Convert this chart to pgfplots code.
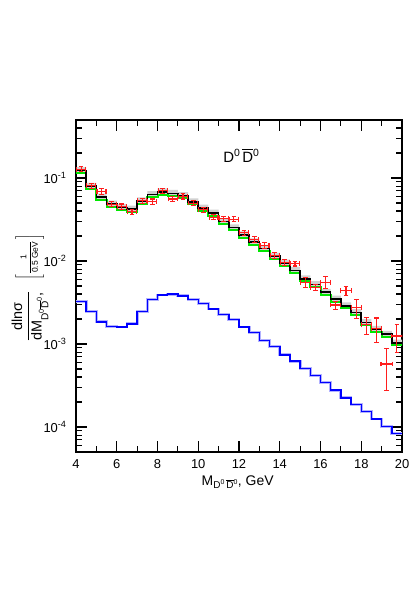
\documentclass[border=0pt]{standalone}
\usepackage{pgfplots}
\pgfplotsset{compat=1.18}
\usepgfplotslibrary{fillbetween}
\usepackage{amsmath}
\usepackage{fontspec}
\setmainfont{Liberation Sans}
\begin{document}
\begin{tikzpicture}
\begin{axis}[
  scale only axis, width=326bp, height=332bp,
  ymode=log, xmin=4, xmax=20, ymin=5e-5, ymax=0.5,
  xtick={4,6,...,20}, minor x tick num=1,
  ytick={1e-4,1e-3,1e-2,1e-1},
  yticklabels={10\textsuperscript{-4},10\textsuperscript{-3},10\textsuperscript{-2},10\textsuperscript{-1}},
  minor ytick={6e-5,7e-5,8e-5,9e-5,2e-4,3e-4,4e-4,5e-4,6e-4,7e-4,8e-4,9e-4,2e-3,3e-3,4e-3,5e-3,6e-3,7e-3,8e-3,9e-3,2e-2,3e-2,4e-2,5e-2,6e-2,7e-2,8e-2,9e-2,2e-1,3e-1,4e-1,5e-1},
  /pgf/number format/assume math mode=true,
  tick align=inside, major tick length=11bp, minor tick length=6bp,
  axis line style={line width=1.6bp},
  every tick/.style={black, line width=1.1bp},
  tick label style={font=\fontsize{13}{15}\selectfont},
  yticklabel style={xshift=-6bp},
  xticklabel style={yshift=-4bp},
  clip=true,
]
% uncertainty band
\addplot[draw=none, const plot, name path=U, forget plot] coordinates {
(4.0,0.1353)(4.5,0.0875)(5.0,0.0649)(5.5,0.0535)(6.0,0.0486)(6.5,0.0464)(7.0,0.0583)(7.5,0.0693)
(8.0,0.0748)(8.5,0.0718)(9.0,0.0674)(9.5,0.0570)(10.0,0.0477)(10.5,0.0415)(11.0,0.0328)(11.5,0.0277)
(12.0,0.0227)(12.5,0.0187)(13.0,0.0155)(13.5,0.0125)(14.0,0.0104)(14.5,0.00847)(15.0,0.00671)(15.5,0.00572)
(16.0,0.00462)(16.5,0.00384)(17.0,0.00318)(17.5,0.00264)(18.0,0.00199)(18.5,0.00165)(19.0,0.00144)(19.5,0.00113)(20.0,0.00113)};
\addplot[draw=none, const plot, name path=L, forget plot] coordinates {
(4.0,0.1144)(4.5,0.0739)(5.0,0.0549)(5.5,0.0452)(6.0,0.0411)(6.5,0.0392)(7.0,0.0493)(7.5,0.0586)
(8.0,0.0632)(8.5,0.0607)(9.0,0.0570)(9.5,0.0482)(10.0,0.0404)(10.5,0.0351)(11.0,0.0277)(11.5,0.0234)
(12.0,0.0192)(12.5,0.0158)(13.0,0.0131)(13.5,0.0106)(14.0,0.0088)(14.5,0.00716)(15.0,0.00567)(15.5,0.00484)
(16.0,0.00391)(16.5,0.00325)(17.0,0.00269)(17.5,0.00223)(18.0,0.00168)(18.5,0.00140)(19.0,0.00122)(19.5,0.00096)(20.0,0.00096)};
\addplot[black!18, forget plot] fill between[of=U and L];
% green
\addplot[const plot, color={rgb,255:red,0;green,230;blue,0}, line width=2bp, no marks] coordinates {
(4.0,0.1144)(4.5,0.0739)(5.0,0.0549)(5.5,0.0452)(6.0,0.0411)(6.5,0.0392)(7.0,0.0493)(7.5,0.0586)
(8.0,0.0632)(8.5,0.0607)(9.0,0.0570)(9.5,0.0482)(10.0,0.0404)(10.5,0.0351)(11.0,0.0277)(11.5,0.0234)
(12.0,0.0192)(12.5,0.0158)(13.0,0.0131)(13.5,0.0106)(14.0,0.0088)(14.5,0.00716)(15.0,0.00567)(15.5,0.00484)
(16.0,0.00391)(16.5,0.00325)(17.0,0.00269)(17.5,0.00223)(18.0,0.00168)(18.5,0.00140)(19.0,0.00122)(19.5,0.00096)(20.0,0.00096)};
% black
\addplot[const plot, black, line width=1.6bp, no marks] coordinates {
(4.0,0.123)(4.5,0.0795)(5.0,0.059)(5.5,0.0486)(6.0,0.0442)(6.5,0.0422)(7.0,0.053)(7.5,0.063)
(8.0,0.068)(8.5,0.0653)(9.0,0.0613)(9.5,0.0518)(10.0,0.0434)(10.5,0.0377)(11.0,0.0298)(11.5,0.0252)
(12.0,0.0206)(12.5,0.017)(13.0,0.0141)(13.5,0.0114)(14.0,0.00946)(14.5,0.0077)(15.0,0.0061)(15.5,0.0052)
(16.0,0.0042)(16.5,0.00349)(17.0,0.00289)(17.5,0.0024)(18.0,0.00181)(18.5,0.0015)(19.0,0.00131)(19.5,0.00103)(20.0,0.00103)};
% blue halo + blue
\addplot[const plot, blue!30, line width=2.8bp, no marks] coordinates {
(4.0,3.25e-3)(4.5,2.47e-3)(5.0,1.85e-3)(5.5,1.62e-3)(6.0,1.6e-3)(6.5,1.75e-3)(7.0,2.47e-3)(7.5,3.43e-3)
(8.0,3.9e-3)(8.5,3.98e-3)(9.0,3.8e-3)(9.5,3.46e-3)(10.0,3.07e-3)(10.5,2.64e-3)(11.0,2.27e-3)(11.5,1.98e-3)
(12.0,1.6e-3)(12.5,1.37e-3)(13.0,1.1e-3)(13.5,9.3e-4)(14.0,7.4e-4)(14.5,6.2e-4)(15.0,5.06e-4)(15.5,4.2e-4)
(16.0,3.42e-4)(16.5,2.78e-4)(17.0,2.25e-4)(17.5,1.88e-4)(18.0,1.53e-4)(18.5,1.25e-4)(19.0,1.01e-4)(19.5,8.4e-5)(20.0,8.4e-5)};
\addplot[const plot, blue, line width=1.5bp, no marks] coordinates {
(4.0,3.25e-3)(4.5,2.47e-3)(5.0,1.85e-3)(5.5,1.62e-3)(6.0,1.6e-3)(6.5,1.75e-3)(7.0,2.47e-3)(7.5,3.43e-3)
(8.0,3.9e-3)(8.5,3.98e-3)(9.0,3.8e-3)(9.5,3.46e-3)(10.0,3.07e-3)(10.5,2.64e-3)(11.0,2.27e-3)(11.5,1.98e-3)
(12.0,1.6e-3)(12.5,1.37e-3)(13.0,1.1e-3)(13.5,9.3e-4)(14.0,7.4e-4)(14.5,6.2e-4)(15.0,5.06e-4)(15.5,4.2e-4)
(16.0,3.42e-4)(16.5,2.78e-4)(17.0,2.25e-4)(17.5,1.88e-4)(18.0,1.53e-4)(18.5,1.25e-4)(19.0,1.01e-4)(19.5,8.4e-5)(20.0,8.4e-5)};
% data points
\addplot[draw=none, mark=none, red,
  error bars/.cd, x dir=both, x explicit, y dir=both, y explicit,
  error bar style={color={rgb,255:red,255;green,30;blue,30}, line width=1.1bp},
  error mark options={color={rgb,255:red,255;green,30;blue,30}, line width=1.1bp, mark size=2.4bp, rotate=90}]
  table[x=x, y=y, x error=ex, y error=ey] {
x y ex ey
4.25 0.128 0.22 0.009
4.75 0.081 0.22 0.0057
5.25 0.069 0.22 0.0052
5.75 0.0485 0.22 0.0034
6.25 0.0454 0.22 0.0032
6.75 0.0391 0.22 0.0027
7.25 0.0532 0.22 0.0037
7.75 0.0522 0.22 0.0037
8.25 0.0705 0.22 0.0049
8.75 0.0558 0.22 0.0039
9.25 0.0601 0.22 0.0042
9.75 0.0499 0.22 0.0035
10.25 0.0414 0.22 0.0029
10.75 0.0337 0.22 0.0024
11.25 0.0322 0.22 0.0023
11.75 0.0319 0.22 0.0022
12.25 0.0219 0.22 0.0015
12.75 0.0182 0.22 0.0013
13.25 0.0155 0.22 0.0012
13.75 0.0117 0.22 0.0011
14.25 0.0097 0.22 0.0008
14.75 0.0093 0.22 0.0006
15.25 0.00556 0.25 0.00078
15.75 0.00483 0.25 0.00044
16.25 0.00556 0.25 0.00095
16.75 0.00295 0.25 0.00033
17.25 0.0044 0.25 0.00053
17.75 0.00275 0.25 0.0007
18.25 0.0017 0.25 0.0004
18.75 0.00155 0.25 0.00051
19.25 0.000574 0.28 0.0003
19.75 0.00125 0.28 0.00046
};
\node[font=\fontsize{15}{17}\selectfont] at (axis cs:12.12,0.187) {D\textsuperscript{0}\hspace{2bp}$\overline{\text{D}}$\textsuperscript{0}};
\end{axis}
% axis labels
\node[anchor=base west, font=\fontsize{14}{16}\selectfont, inner sep=0pt] at (125.5bp,-33bp) {M\raisebox{-3.5bp}{\fontsize{10}{12}\selectfont D\textsuperscript{0}\hspace{1.5bp}$\overline{\text{D}}$\textsuperscript{0}}, GeV};
\node[rotate=90, anchor=center] at (-46bp,164.5bp) {{\fontsize{14.5}{16}\selectfont$\genfrac{}{}{0.6pt}{0}{\text{dlnσ}}{\text{dM}_{\text{D}^{\text{0}}\overline{\text{D}}^{\text{0}}}\text{,}}$}\hspace{10bp}{\fontsize{8.5}{10}\selectfont$\left[\rule[-13bp]{0pt}{29bp}\,\genfrac{}{}{0.4pt}{0}{\text{1}}{\text{0.5 GeV}}\,\right]$}};
\pgfresetboundingbox
\useasboundingbox (-76bp,-141bp) rectangle (339bp,452bp);
\end{tikzpicture}
\end{document}
